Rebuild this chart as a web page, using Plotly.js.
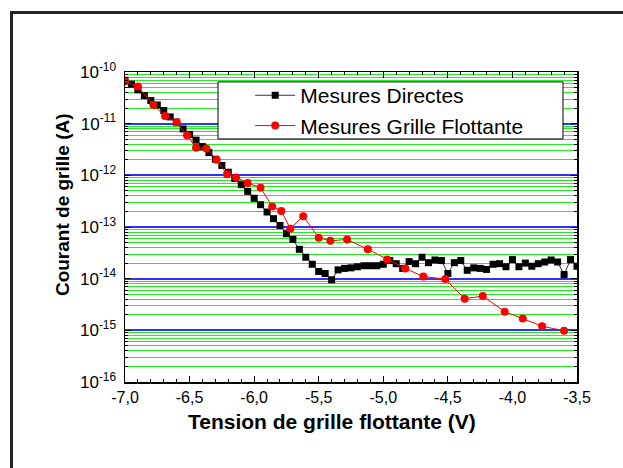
<!DOCTYPE html>
<html>
<head>
<meta charset="utf-8">
<script src="https://cdn.plot.ly/plotly-3.0.1.min.js"></script>
<style>
  html, body { margin: 0; padding: 0; background: #fff; overflow: hidden; }
  #wrap { position: relative; width: 623px; height: 468px; overflow: hidden; }
  #chart { position: absolute; left: 0; top: 0; width: 623px; height: 468px; }
  #frame { position: absolute; left: 10px; top: 11px; width: 900px; height: 900px;
           border-left: 3px solid #222; border-top: 3px solid #222; pointer-events: none; }
</style>
</head>
<body>
<div id="wrap">
  <div id="chart"></div>
  <div id="frame"></div>
</div>
<script>
// ---- Data: Mesures Directes (tension V, courant A) ----
const directV = [
  -7.00, -6.95, -6.90, -6.85, -6.80, -6.75, -6.70, -6.65, -6.60, -6.55,
  -6.50, -6.45, -6.40, -6.35, -6.30, -6.25, -6.20, -6.15, -6.10, -6.05,
  -6.00, -5.95, -5.90, -5.85, -5.80, -5.75, -5.70, -5.65, -5.60, -5.55,
  -5.50, -5.45, -5.40, -5.35, -5.30, -5.25, -5.20, -5.15, -5.10, -5.05,
  -5.00, -4.95, -4.90, -4.85, -4.80, -4.75, -4.70, -4.65, -4.60, -4.55,
  -4.50, -4.45, -4.40, -4.35, -4.30, -4.25, -4.20, -4.15, -4.10, -4.05,
  -4.00, -3.95, -3.90, -3.85, -3.80, -3.75, -3.70, -3.65, -3.60, -3.55,
  -3.50
];
const directI = [
  6.9e-11, 5.8e-11, 4.5e-11, 3.5e-11, 2.8e-11, 2.3e-11, 1.8e-11, 1.35e-11, 1.07e-11, 7.9e-12,
  6.2e-12, 4.8e-12, 3.6e-12, 2.75e-12, 2.05e-12, 1.55e-12, 1.15e-12, 8.7e-13, 6.6e-13, 4.9e-13,
  3.6e-13, 2.7e-13, 1.95e-13, 1.45e-13, 1.07e-13, 7.4e-14, 5.75e-14, 3.7e-14, 2.6e-14, 1.9e-14,
  1.38e-14, 1.26e-14, 9.5e-15, 1.48e-14, 1.58e-14, 1.62e-14, 1.7e-14, 1.78e-14, 1.78e-14, 1.78e-14,
  1.9e-14, 2.24e-14, 1.95e-14, 1.58e-14, 2.14e-14, 1.95e-14, 2.6e-14, 2.04e-14, 2.3e-14, 2.24e-14,
  1.26e-14, 2.04e-14, 2.24e-14, 1.45e-14, 1.62e-14, 1.58e-14, 1.51e-14, 1.9e-14, 1.95e-14, 1.7e-14,
  2.34e-14, 1.7e-14, 2.0e-14, 1.74e-14, 1.95e-14, 2.1e-14, 2.3e-14, 2.1e-14, 1.2e-14, 2.34e-14,
  1.74e-14
];

// ---- Data: Mesures Grille Flottante ----
const flottV = [
  -7.00, -6.90, -6.78, -6.69, -6.60, -6.52, -6.45, -6.37, -6.29, -6.21,
  -6.14, -6.05, -5.95, -5.86, -5.79, -5.72, -5.62, -5.50, -5.41, -5.28,
  -5.12, -4.97, -4.83, -4.69, -4.52, -4.37, -4.23, -4.06, -3.92, -3.77,
  -3.60
];
const flottI = [
  6.6e-11, 5.25e-11, 2.3e-11, 1.4e-11, 1.07e-11, 6.0e-12, 3.4e-12, 3.3e-12, 2.0e-12, 1.05e-12,
  9.1e-13, 7.1e-13, 5.75e-13, 2.5e-13, 2.05e-13, 9.3e-14, 1.62e-13, 6.2e-14, 5.4e-14, 5.75e-14,
  3.7e-14, 2.35e-14, 1.58e-14, 1.1e-14, 9.8e-15, 4.1e-15, 4.6e-15, 2.3e-15, 1.7e-15, 1.2e-15,
  9.8e-16
];

// ---- Tick labels ----
const xTickVals = [-7.0, -6.5, -6.0, -5.5, -5.0, -4.5, -4.0, -3.5];
const xTickText = ['-7,0', '-6,5', '-6,0', '-5,5', '-5,0', '-4,5', '-4,0', '-3,5'];
const yTickVals = [1e-16, 1e-15, 1e-14, 1e-13, 1e-12, 1e-11, 1e-10];
const yTickText = ['10<sup>-16</sup>', '10<sup>-15</sup>', '10<sup>-14</sup>', '10<sup>-13</sup>',
                   '10<sup>-12</sup>', '10<sup>-11</sup>', '10<sup>-10</sup>'];
const yMantissas = [2, 3, 4, 5, 6, 7, 8, 9];

const xTitle = 'Tension de grille flottante (V)';
const yTitle = 'Courant de grille (A)';

// minor tick positions (2..9 within each decade) for the log axis
const yMinorVals = [];
yTickVals.slice(0, -1).forEach(d => yMantissas.forEach(m => yMinorVals.push(m * d)));

const FONT = 'Arial, "Liberation Sans", sans-serif';

const traces = [
  {
    x: directV, y: directI, name: 'Mesures Directes', type: 'scatter', mode: 'lines+markers',
    line: { color: '#333333', width: 1 },
    marker: { symbol: 'square', size: 7, color: '#000000' }
  },
  {
    x: flottV, y: flottI, name: 'Mesures Grille Flottante', type: 'scatter', mode: 'lines+markers',
    line: { color: '#ff0000', width: 1 },
    marker: { symbol: 'circle', size: 8, color: '#ff0000' }
  }
];

const layout = {
  width: 623, height: 468,
  margin: { l: 125, r: 46, t: 72, b: 86, pad: 0 },
  paper_bgcolor: '#ffffff', plot_bgcolor: '#ffffff',
  font: { family: FONT, color: '#000000', size: 16 },
  showlegend: true,
  legend: {
    x: 0.277, y: 0.990, xanchor: 'left', yanchor: 'top',
    bgcolor: 'rgba(0,0,0,0)', borderwidth: 0,
    font: { family: FONT, size: 21, color: '#000000' },
    itemwidth: 40, tracegroupgap: 0
  },
  shapes: [
    { type: 'rect', xref: 'paper', yref: 'paper', x0: 0.2058, x1: 0.969, y0: 0.784, y1: 0.968,
      layer: 'above', fillcolor: '#ffffff', line: { color: '#000000', width: 1 } }
  ],
  annotations: [
    { text: xTitle, xref: 'paper', yref: 'paper', x: 0.458, y: -0.129, xanchor: 'center', yanchor: 'middle',
      showarrow: false, font: { family: FONT, size: 21, color: '#000', weight: 'bold' } },
    { text: yTitle, xref: 'paper', yref: 'paper', x: -0.137, y: 0.571, xanchor: 'center', yanchor: 'middle',
      textangle: -90, showarrow: false, font: { family: FONT, size: 19, color: '#000', weight: 'bold' } }
  ],
  xaxis: {
    range: [-7.0, -3.5], type: 'linear',
    tickmode: 'array', tickvals: xTickVals, ticktext: xTickText,
    ticks: 'inside', ticklen: 6, tickwidth: 1, tickcolor: '#000',
    showline: true, linecolor: '#000', linewidth: 1.5, mirror: 'ticks',
    showgrid: false, zeroline: false,
    tickfont: { family: FONT, size: 16, color: '#000' },
    minor: { dtick: 0.1, tick0: -7.0, ticks: 'inside', ticklen: 3, tickcolor: '#000', showgrid: false }
  },
  yaxis: {
    type: 'log', range: [-16, -10],
    tickmode: 'array', tickvals: yTickVals, ticktext: yTickText,
    ticks: 'inside', ticklen: 6, tickwidth: 1, tickcolor: '#000',
    showline: true, linecolor: '#000', linewidth: 1.5, mirror: 'ticks',
    showgrid: true, gridcolor: '#3030ff', gridwidth: 2,
    zeroline: false, ticklabelstandoff: 4,
    tickfont: { family: FONT, size: 17, color: '#000' },
    minor: { tickmode: 'array', tickvals: yMinorVals, ticks: 'inside', ticklen: 3, tickcolor: '#000',
             showgrid: true, gridcolor: '#22ee22', gridwidth: 1 }
  }
};

Plotly.newPlot('chart', traces, layout, { displayModeBar: false, staticPlot: true });
</script>
</body>
</html>
